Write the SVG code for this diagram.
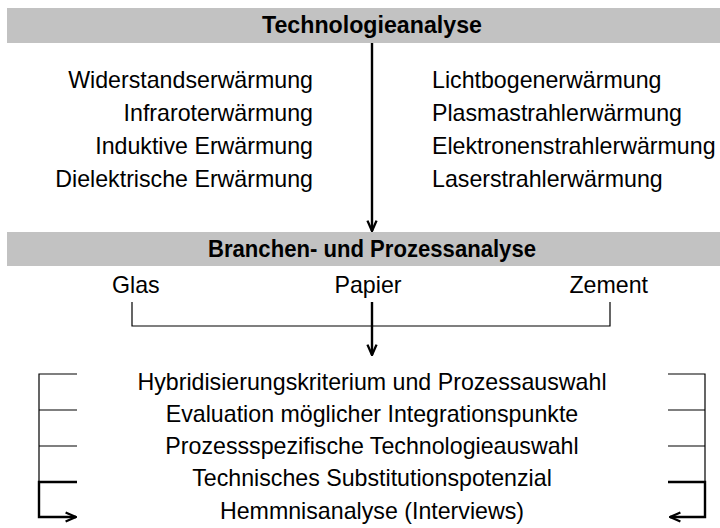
<svg xmlns="http://www.w3.org/2000/svg" width="720" height="528" viewBox="0 0 720 528">
<defs>
<style>
.t{font-family:"Liberation Sans",Arial,sans-serif;font-size:23.2px;fill:#000}
.b{font-weight:bold;text-anchor:middle}
.m{text-anchor:middle}
.e{text-anchor:end}
.bar{fill:#c2c2c2}
.thin{stroke:#000;stroke-width:1.2;fill:none}
.thick{stroke:#000;stroke-width:2.4;fill:none}
</style>
<marker id="ah2" viewBox="0 0 10 10" refX="9" refY="5" markerWidth="13" markerHeight="13" markerUnits="userSpaceOnUse" orient="auto">
<path d="M1,1.5 L9,5 L1,8.5" fill="none" stroke="#000" stroke-width="1.8"/>
</marker>
</defs>
<rect width="720" height="528" fill="#fff"/>
<g id="technologieanalyse">
<rect class="bar" x="7" y="8" width="713" height="35"/>
<text class="t b" x="372" y="33">Technologieanalyse</text>
</g>
<g id="technologien-links">
<text class="t e" x="313" y="88">Widerstandserwärmung</text>
<text class="t e" x="313" y="121">Infraroterwärmung</text>
<text class="t e" x="313" y="154">Induktive Erwärmung</text>
<text class="t e" x="313" y="187">Dielektrische Erwärmung</text>
</g>
<g id="technologien-rechts">
<text class="t" x="432" y="88">Lichtbogenerwärmung</text>
<text class="t" x="432" y="121">Plasmastrahlerwärmung</text>
<text class="t" x="432" y="154">Elektronenstrahlerwärmung</text>
<text class="t" x="432" y="187">Laserstrahlerwärmung</text>
</g>
<g id="branchenanalyse">
<rect class="bar" x="7" y="232" width="713" height="34"/>
<text class="t b" x="372" y="257" textLength="328" lengthAdjust="spacingAndGlyphs">Branchen- und Prozessanalyse</text>
</g>
<g id="branchen">
<text class="t" x="112" y="293">Glas</text>
<text class="t m" x="368" y="293">Papier</text>
<text class="t e" x="648" y="293">Zement</text>
</g>
<g id="schritte">
<text class="t m" x="372" y="390">Hybridisierungskriterium und Prozessauswahl</text>
<text class="t m" x="372" y="422">Evaluation möglicher Integrationspunkte</text>
<text class="t m" x="372" y="454">Prozessspezifische Technologieauswahl</text>
<text class="t m" x="372" y="486">Technisches Substitutionspotenzial</text>
<text class="t m" x="372" y="519">Hemmnisanalyse (Interviews)</text>
</g>
<g id="connectors">
<line class="thick" x1="372" y1="43" x2="372" y2="231" marker-end="url(#ah2)"/>
<polyline class="thin" points="132,302 132,326 610,326 610,302"/>
<line class="thick" x1="372" y1="302" x2="372" y2="355" marker-end="url(#ah2)"/>
<polyline class="thin" points="77,374 39,374 39,482"/>
<line class="thin" x1="39" y1="410" x2="77" y2="410"/>
<line class="thin" x1="39" y1="446" x2="77" y2="446"/>
<polyline class="thick" points="77,482 39,482 39,517 76,517" marker-end="url(#ah2)"/>
<polyline class="thin" points="668,374 705,374 705,482"/>
<line class="thin" x1="668" y1="410" x2="705" y2="410"/>
<line class="thin" x1="668" y1="446" x2="705" y2="446"/>
<polyline class="thick" points="668,482 705,482 705,517 670,517" marker-end="url(#ah2)"/>
</g>
</svg>
